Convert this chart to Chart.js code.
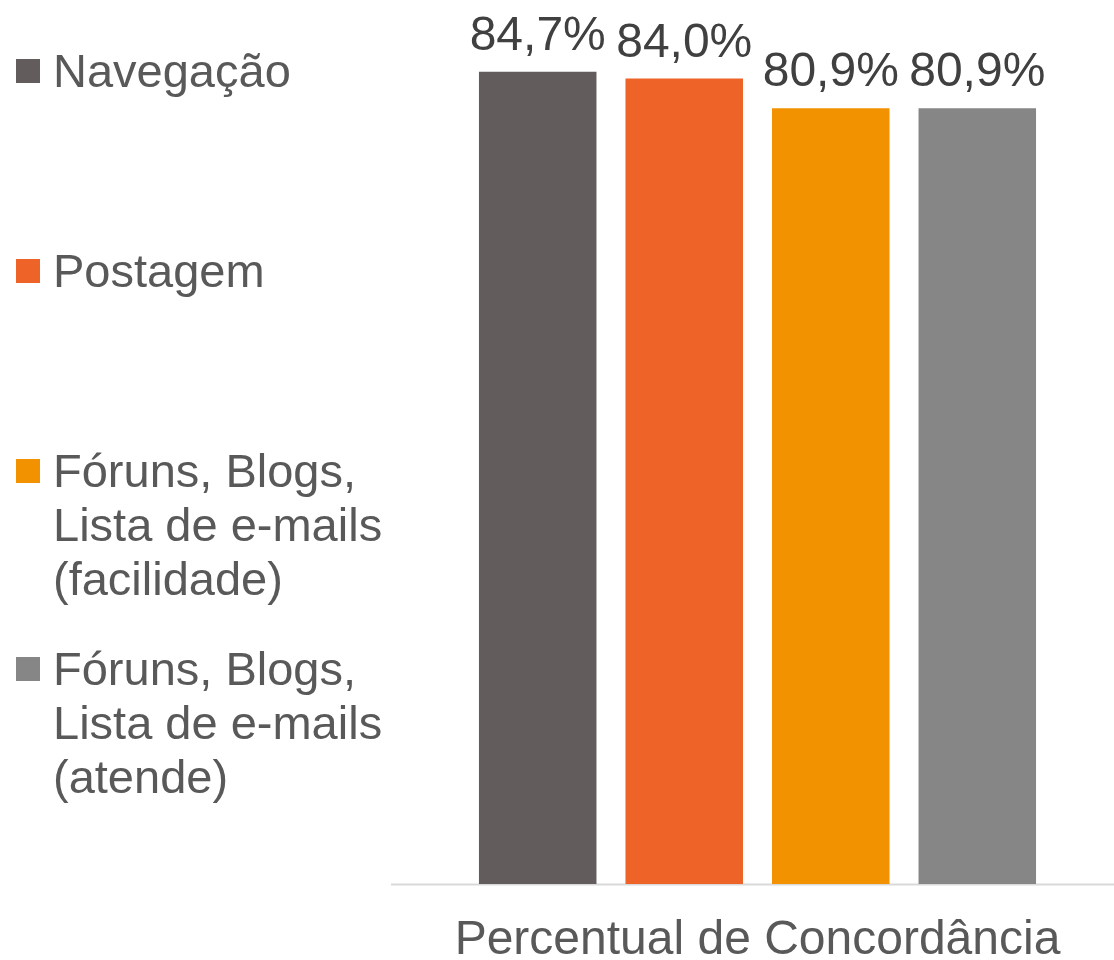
<!DOCTYPE html>
<html>
<head>
<meta charset="utf-8">
<script src="https://cdn.jsdelivr.net/npm/chart.js@4"></script>
<style>
  html, body { margin: 0; padding: 0; background: #fff; overflow: hidden; }
  #wrap { position: relative; width: 1114px; height: 960px; }
  #legend { position: absolute; left: 0; top: 0; width: 400px; height: 960px;
    font-family: "Liberation Sans", Arial, sans-serif; font-size: 47px; line-height: 54px; color: #595959; }
  .item { position: absolute; left: 53px; width: 345px; white-space: nowrap; }
  .item .box { position: absolute; left: -37px; top: 15px; width: 24px; height: 24px; }
</style>
</head>
<body>
<div id="wrap">
  <canvas id="chart" width="1114" height="960"></canvas>
  <div id="legend"></div>
</div>
<script>
// dados
const categories = ["Percentual de Concordância"];
const seriesNames = [
  "Navegação",
  "Postagem",
  "Fóruns, Blogs, Lista de e-mails (facilidade)",
  "Fóruns, Blogs, Lista de e-mails (atende)"
];
const legendLines = [
  ["Navegação"],
  ["Postagem"],
  ["Fóruns, Blogs,", "Lista de e-mails", "(facilidade)"],
  ["Fóruns, Blogs,", "Lista de e-mails", "(atende)"]
];
const seriesValues = [84.7, 84.0, 80.9, 80.9];
const seriesColors = ["#625d5c", "#ee6428", "#f29200", "#868686"];

const FONT = '"Liberation Sans", Arial, sans-serif';

// rótulos em cima das barras
const valueLabels = {
  id: "valueLabels",
  afterDatasetsDraw(chart) {
    const ctx = chart.ctx;
    ctx.save();
    ctx.font = "48px " + FONT;
    ctx.fillStyle = "#404040";
    ctx.textAlign = "center";
    ctx.textBaseline = "alphabetic";
    chart.data.datasets.forEach((ds, i) => {
      const bar = chart.getDatasetMeta(i).data[0];
      const txt = ds.data[0].toFixed(1).replace(".", ",") + "%";
      ctx.fillText(txt, bar.x, bar.y - 22);
    });
    ctx.restore();
  }
};

// linha do eixo
const baseLine = {
  id: "baseLine",
  beforeDatasetsDraw(chart) {
    const ctx = chart.ctx;
    const y = chart.chartArea.bottom;
    ctx.save();
    ctx.strokeStyle = "#d9d9d9";
    ctx.lineWidth = 2;
    ctx.beginPath();
    ctx.moveTo(391, y + 0.5);
    ctx.lineTo(chart.width, y + 0.5);
    ctx.stroke();
    ctx.restore();
  }
};

const chart = new Chart(document.getElementById("chart"), {
  type: "bar",
  data: {
    labels: categories,
    datasets: seriesNames.map((name, i) => ({
      label: name,
      data: [seriesValues[i]],
      backgroundColor: seriesColors[i],
      borderWidth: 0
    }))
  },
  options: {
    responsive: false,
    animation: false,
    categoryPercentage: 0.822,
    barPercentage: 0.802,
    layout: { padding: { top: 21, left: 401, right: 0, bottom: 0 } },
    plugins: {
      legend: { display: false },
      tooltip: { enabled: false }
    },
    scales: {
      y: { display: false, min: 0, max: 90 },
      x: {
        grid: { display: false, drawTicks: false },
        border: { display: false },
        ticks: { color: "#595959", font: { family: FONT, size: 48 }, padding: 28 },
        afterFit(scale) { scale.height = 76; }
      }
    }
  },
  plugins: [valueLabels, baseLine]
});

// legenda à esquerda
const legendTops = [44, 244, 444, 642];
const legendEl = document.getElementById("legend");
legendLines.forEach((lines, i) => {
  const item = document.createElement("div");
  item.className = "item";
  item.style.top = legendTops[i] + "px";
  const box = document.createElement("span");
  box.className = "box";
  box.style.background = seriesColors[i];
  item.appendChild(box);
  lines.forEach((l, j) => {
    if (j > 0) item.appendChild(document.createElement("br"));
    item.appendChild(document.createTextNode(l));
  });
  legendEl.appendChild(item);
});
</script>
</body>
</html>
